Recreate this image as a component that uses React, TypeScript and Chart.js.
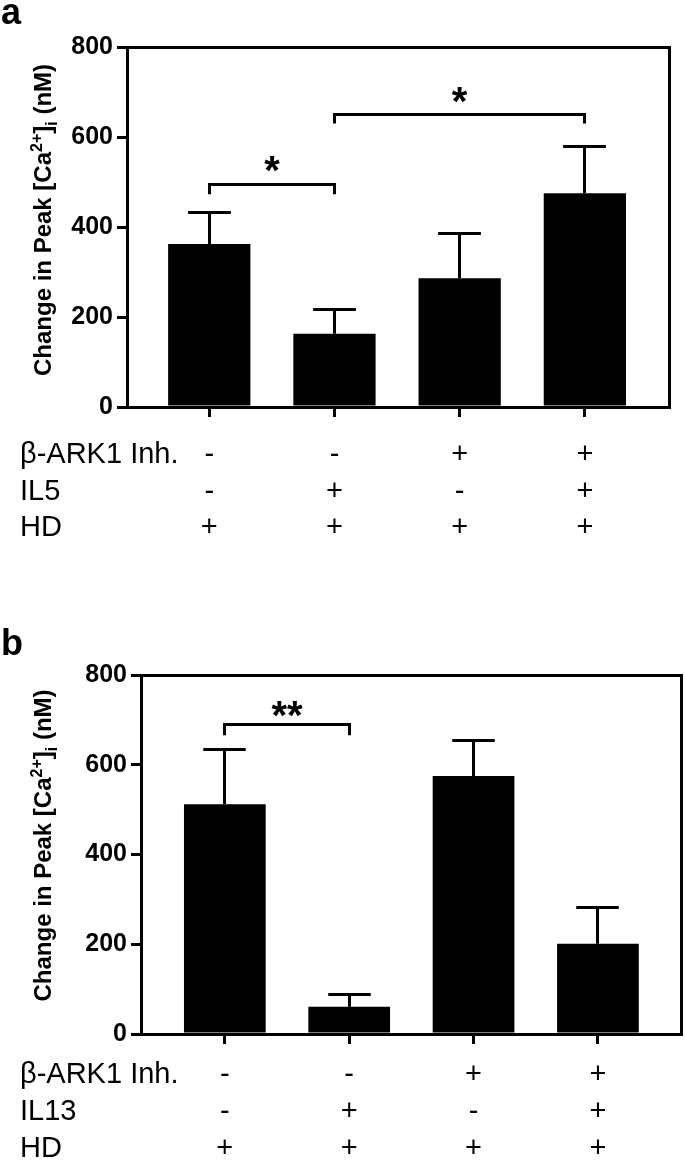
import React, { useEffect, useRef } from "react";
import { Chart, registerables } from "chart.js";

Chart.register(...registerables);

const FONT = '"Liberation Sans", Arial, Helvetica, sans-serif';

// ---------- Data ----------
const categories = [0, 1, 2, 3];
const yTicks = [0, 200, 400, 600, 800];

// Panel a
const rowLabelsA = ["β-ARK1 Inh.", "IL5", "HD"];
const inhibitorA = ["-", "-", "+", "+"];
const il5A = ["-", "+", "-", "+"];
const hdA = ["+", "+", "+", "+"];
const meansA = [362, 163, 286, 475];
const upperA = [433, 217, 385, 580];
const bracketFromA = [0, 1];
const bracketToA = [1, 3];
const bracketTopA = [494, 650];
const bracketLegA = [473, 630];
const bracketLabelA = ["*", "*"];
const bracketLabelYA = [541, 693];

// Panel b
const rowLabelsB = ["β-ARK1 Inh.", "IL13", "HD"];
const inhibitorB = ["-", "-", "+", "+"];
const il13B = ["-", "+", "-", "+"];
const hdB = ["+", "+", "+", "+"];
const meansB = [512, 61, 575, 201];
const upperB = [633, 87, 653, 282];
const bracketFromB = [0];
const bracketToB = [1];
const bracketTopB = [689];
const bracketLegB = [666];
const bracketLabelB = ["**"];
const bracketLabelYB = [724];

// ---------- Panel layout ----------
const panelA = {
  letter: "a",
  letterBaseline: 24,
  canvasH: 580,
  left: 127,
  right: 669,
  top: 47,
  bottom: 407,
  xMin: -0.657,
  xMax: 3.672,
  rowY: [455, 492, 528],
  titleCenterOffset: -7,
  rowLabels: rowLabelsA,
  rows: [inhibitorA, il5A, hdA],
  means: meansA,
  upper: upperA,
  brFrom: bracketFromA,
  brTo: bracketToA,
  brTop: bracketTopA,
  brLeg: bracketLegA,
  brLabel: bracketLabelA,
  brLabelY: bracketLabelYA,
};

const panelB = {
  letter: "b",
  letterBaseline: 75,
  canvasH: 583,
  left: 141,
  right: 681,
  top: 95,
  bottom: 454,
  xMin: -0.674,
  xMax: 3.668,
  rowY: [495, 532, 569],
  titleCenterOffset: -9,
  rowLabels: rowLabelsB,
  rows: [inhibitorB, il13B, hdB],
  means: meansB,
  upper: upperB,
  brFrom: bracketFromB,
  brTo: bracketToB,
  brTop: bracketTopB,
  brLeg: bracketLegB,
  brLabel: bracketLabelB,
  brLabelY: bracketLabelYB,
};

function align(v: number) {
  return Math.round(v - 1.5) + 1.5;
}

function buildConfig(p: any): any {
  const overlay = {
    id: "overlay",
    afterDatasetsDraw(chart: any) {
      const ctx = chart.ctx;
      const xs = chart.scales.x;
      const ys = chart.scales.y;
      const meta = chart.getDatasetMeta(0);
      ctx.save();
      ctx.strokeStyle = "#000";
      ctx.lineWidth = 3;
      ctx.lineCap = "butt";
      // error bars
      p.means.forEach((m: number, i: number) => {
        const el = meta.data[i];
        const x = align(el.x);
        const y0 = ys.getPixelForValue(m);
        const y1 = align(ys.getPixelForValue(p.upper[i]));
        const half = el.width * 0.26;
        ctx.beginPath();
        ctx.moveTo(x, y0);
        ctx.lineTo(x, y1);
        ctx.moveTo(x - half, y1);
        ctx.lineTo(x + half, y1);
        ctx.stroke();
      });
      // brackets
      ctx.lineJoin = "miter";
      p.brFrom.forEach((f: number, i: number) => {
        const x1 = align(xs.getPixelForValue(f));
        const x2 = align(xs.getPixelForValue(p.brTo[i]));
        const yt = align(ys.getPixelForValue(p.brTop[i]));
        const yl = ys.getPixelForValue(p.brLeg[i]);
        ctx.beginPath();
        ctx.moveTo(x1, yl);
        ctx.lineTo(x1, yt);
        ctx.lineTo(x2, yt);
        ctx.lineTo(x2, yl);
        ctx.stroke();
        ctx.fillStyle = "#000";
        ctx.font = `bold 40px ${FONT}`;
        ctx.textAlign = "center";
        ctx.textBaseline = "alphabetic";
        const lbl = p.brLabel[i];
        const mt = ctx.measureText(lbl);
        const cy = ys.getPixelForValue(p.brLabelY[i]);
        ctx.fillText(
          lbl,
          (x1 + x2) / 2,
          cy + (mt.actualBoundingBoxAscent - mt.actualBoundingBoxDescent) / 2
        );
      });
      ctx.restore();
    },
    afterDraw(chart: any) {
      const ctx = chart.ctx;
      const ca = chart.chartArea;
      const xs = chart.scales.x;
      ctx.save();
      // frame top & right
      ctx.strokeStyle = "#000";
      ctx.lineWidth = 3;
      ctx.lineJoin = "miter";
      const l = align(ca.left);
      const r = align(ca.right);
      const t = align(ca.top);
      const b = align(ca.bottom);
      ctx.beginPath();
      ctx.moveTo(l - 1.5, t);
      ctx.lineTo(r, t);
      ctx.lineTo(r, b + 1.5);
      ctx.stroke();

      // panel letter
      ctx.fillStyle = "#000";
      ctx.font = `bold 36px ${FONT}`;
      ctx.textAlign = "left";
      ctx.textBaseline = "alphabetic";
      ctx.fillText(p.letter, 1, p.letterBaseline);

      // y-axis title with super/subscripts
      const segs = [
        { t: "Change in Peak [Ca", s: 24, dy: 0 },
        { t: "2+", s: 16, dy: -9 },
        { t: "]", s: 24, dy: 0 },
        { t: "i", s: 16, dy: 6 },
        { t: " (nM)", s: 24, dy: 0 },
      ];
      let total = 0;
      const widths = segs.map((sg) => {
        ctx.font = `bold ${sg.s}px ${FONT}`;
        const w = ctx.measureText(sg.t).width;
        total += w;
        return w;
      });
      const cy = (ca.top + ca.bottom) / 2 + p.titleCenterOffset;
      ctx.translate(51, cy);
      ctx.rotate(-Math.PI / 2);
      let cx = -total / 2;
      segs.forEach((sg, i) => {
        ctx.font = `bold ${sg.s}px ${FONT}`;
        ctx.fillText(sg.t, cx, sg.dy);
        cx += widths[i];
      });
      ctx.setTransform(1, 0, 0, 1, 0, 0);

      // condition rows
      ctx.font = `29px ${FONT}`;
      ctx.textBaseline = "middle";
      p.rowLabels.forEach((lab: string, r: number) => {
        ctx.textAlign = "left";
        ctx.fillText(lab, 20, p.rowY[r]);
        ctx.textAlign = "center";
        p.rows[r].forEach((sgn: string, i: number) => {
          ctx.fillText(sgn, xs.getPixelForValue(categories[i]), p.rowY[r]);
        });
      });
      ctx.restore();
    },
  };

  return {
    type: "bar",
    data: {
      datasets: [
        {
          data: p.means.map((v: number, i: number) => ({ x: categories[i], y: v })),
          backgroundColor: "#000",
          borderWidth: 0,
          barPercentage: 0.657,
          categoryPercentage: 1,
        },
      ],
    },
    options: {
      animation: false,
      responsive: false,
      devicePixelRatio: 1,
      layout: {
        padding: { top: p.top, right: 685 - p.right, left: 0, bottom: 0 },
      },
      plugins: {
        legend: { display: false },
        tooltip: { enabled: false },
        title: { display: false },
      },
      scales: {
        x: {
          type: "linear",
          offset: false,
          min: p.xMin,
          max: p.xMax,
          afterBuildTicks: (s: any) => {
            s.ticks = categories.map((v) => ({ value: v }));
          },
          afterFit: (s: any) => {
            s.height = p.canvasH - p.bottom;
          },
          ticks: { display: false },
          grid: {
            offset: false,
            drawOnChartArea: false,
            drawTicks: true,
            tickLength: 10,
            lineWidth: 3,
            color: "#000",
          },
          border: { display: true, width: 3, color: "#000" },
        },
        y: {
          type: "linear",
          min: 0,
          max: 800,
          afterBuildTicks: (s: any) => {
            s.ticks = yTicks.map((v) => ({ value: v }));
          },
          afterFit: (s: any) => {
            s.width = p.left;
          },
          ticks: {
            color: "#000",
            padding: 4,
            font: { family: FONT, size: 25, weight: "bold" },
          },
          grid: {
            drawOnChartArea: false,
            drawTicks: true,
            tickLength: 10,
            lineWidth: 3,
            color: "#000",
          },
          border: { display: true, width: 3, color: "#000" },
        },
      },
    },
    plugins: [overlay],
  };
}

function Panel({ cfg }: { cfg: any }) {
  const ref = useRef<HTMLCanvasElement>(null);
  useEffect(() => {
    const chart = new Chart(ref.current as HTMLCanvasElement, buildConfig(cfg));
    return () => chart.destroy();
  }, [cfg]);
  return (
    <canvas
      ref={ref}
      width={685}
      height={cfg.canvasH}
      style={{ display: "block", width: 685, height: cfg.canvasH }}
    />
  );
}

export default function App() {
  return (
    <div
      style={{
        position: "absolute",
        left: 0,
        top: 0,
        width: 685,
        height: 1163,
        background: "#fff",
        overflow: "hidden",
      }}
    >
      <Panel cfg={panelA} />
      <Panel cfg={panelB} />
    </div>
  );
}
